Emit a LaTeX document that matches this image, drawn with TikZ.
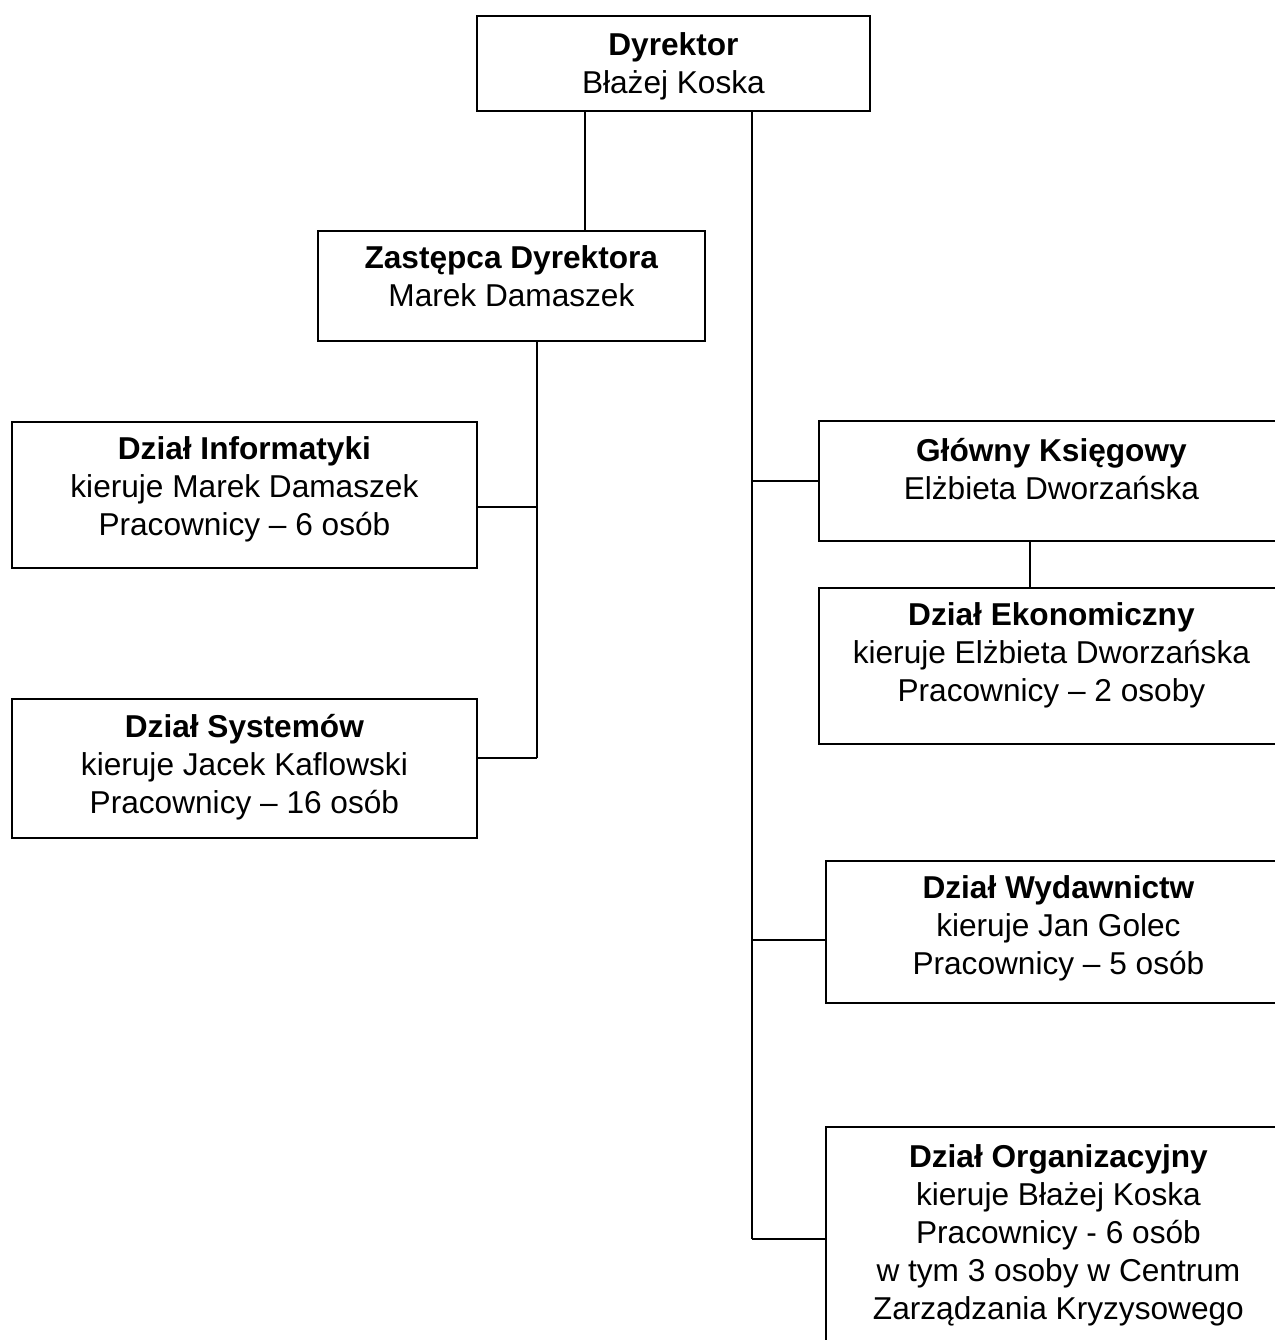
\documentclass[tikz,border=0pt]{standalone}
\usepackage{fontspec}
\setmainfont{Liberation Sans}
\usetikzlibrary{positioning}

\begin{document}
\begin{tikzpicture}[x=0.02cm, y=-0.02cm, line width=1.1pt,
    box/.style={draw, anchor=north west, inner sep=0pt},
    txt/.style={align=center, inner sep=0pt, font=\fontsize{18}{21.6}\selectfont}]
    % Frame
    \useasboundingbox (0,0) rectangle (1275,1340);
    \clip (0,0) rectangle (1275,1340);

    % Boxes
    \node[box, minimum width=7.86cm, minimum height=1.9cm] (dyr) at (476,15) {};
    \node[box, minimum width=7.74cm, minimum height=2.2cm] (zast) at (317,230) {};
    \node[box, minimum width=9.3cm, minimum height=2.92cm] (inf) at (11,421) {};
    \node[box, minimum width=9.3cm, minimum height=2.78cm] (sys) at (11,698) {};
    \node[box, minimum width=9.3cm, minimum height=2.4cm] (gk) at (818,420) {};
    \node[box, minimum width=9.3cm, minimum height=3.12cm] (eko) at (818,587) {};
    \node[box, minimum width=9.3cm, minimum height=2.84cm] (wyd) at (825,860) {};
    \node[box, minimum width=9.3cm, minimum height=4.48cm] (org) at (825,1126) {};

    % Texts
    \node[txt, below=0.34cm of dyr.north] (dyr-t) {\textbf{Dyrektor}\\Błażej Koska};
    \node[txt, below=0.3cm of zast.north] (zast-t) {\textbf{Zastępca Dyrektora}\\Marek Damaszek};
    \node[txt, below=0.3cm of inf.north] (inf-t) {\textbf{Dział Informatyki}\\kieruje Marek Damaszek\\Pracownicy -- 6 osób};
    \node[txt, below=0.3cm of sys.north] (sys-t) {\textbf{Dział Systemów}\\kieruje Jacek Kaflowski\\Pracownicy -- 16 osób};
    \node[txt, below=0.34cm of gk.north] (gk-t) {\textbf{Główny Księgowy}\\Elżbieta Dworzańska};
    \node[txt, below=0.3cm of eko.north] (eko-t) {\textbf{Dział Ekonomiczny}\\kieruje Elżbieta Dworzańska\\Pracownicy -- 2 osoby};
    \node[txt, below=0.3cm of wyd.north] (wyd-t) {\textbf{Dział Wydawnictw}\\kieruje Jan Golec\\Pracownicy -- 5 osób};
    \node[txt, below=0.36cm of org.north] (org-t) {\textbf{Dział Organizacyjny}\\kieruje Błażej Koska\\Pracownicy - 6 osób\\w tym 3 osoby w Centrum\\Zarządzania Kryzysowego};

    % Line positions
    \coordinate (a1) at (585,0);
    \coordinate (a2) at (537,0);
    \coordinate (a3) at (1030,0);
    \coordinate (sp) at (752,0);
    \coordinate (inf-c) at ([yshift=-0.24cm]inf.east);
    \coordinate (sys-c) at ([yshift=0.21cm]sys.east);
    \coordinate (wyd-c) at ([yshift=-0.16cm]wyd.west);

    % Connectors
    \draw (dyr.south -| a1) -- (zast.north -| a1);
    \draw (zast.south -| a2) -- (sys-c -| a2);
    \draw (inf-c -| a2) -- (inf-c);
    \draw (sys-c -| a2) -- (sys-c);
    \draw (dyr.south -| sp) -- (org.west -| sp);
    \draw (gk.west -| sp) -- (gk.west);
    \draw (gk.south -| a3) -- (eko.north -| a3);
    \draw (wyd-c -| sp) -- (wyd-c);
    \draw (org.west -| sp) -- (org.west);
\end{tikzpicture}
\end{document}
